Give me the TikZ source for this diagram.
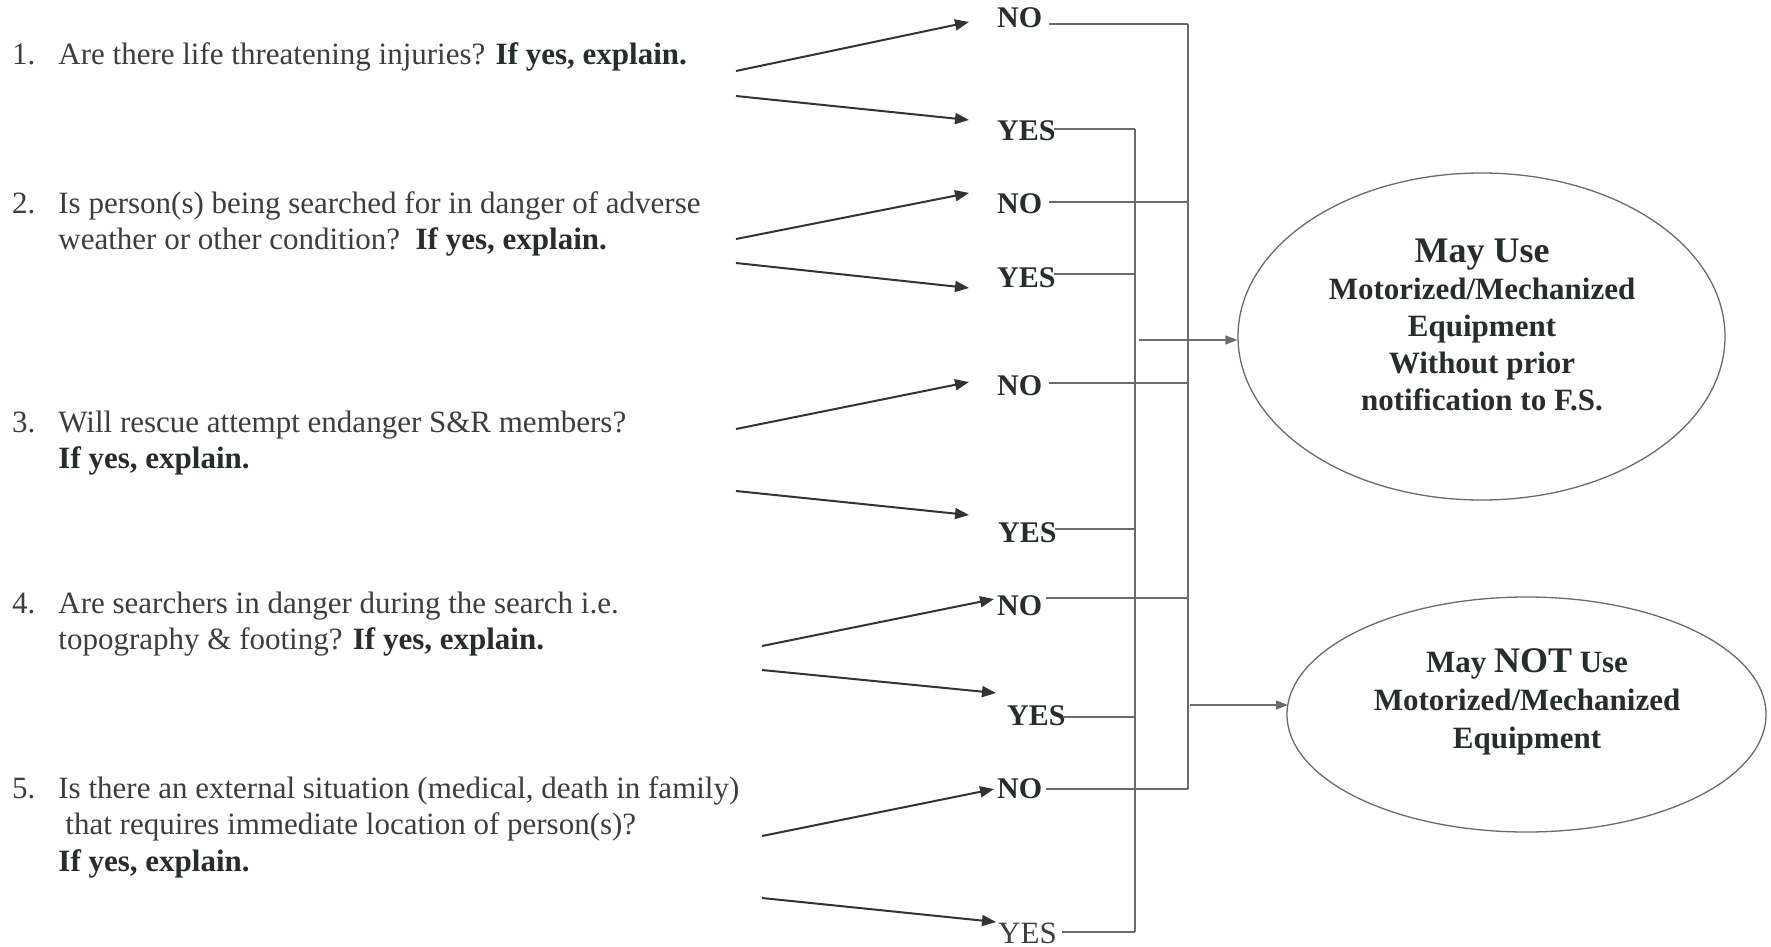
\documentclass[tikz,border=0pt]{standalone}
\usepackage{fontspec}
\setmainfont{Liberation Serif}
\usetikzlibrary{arrows.meta,shapes.geometric}
\definecolor{ink}{RGB}{60,62,60}
\definecolor{inkb}{RGB}{38,46,42}
\definecolor{wirec}{RGB}{105,108,106}
\definecolor{arrowc}{RGB}{48,52,50}
\newcommand{\boldpart}[1]{{\bfseries\color{inkb}#1}}
\begin{document}
\begin{tikzpicture}[x=1pt,y=-1pt,
  qtext/.style={anchor=base west, inner sep=0pt, text=ink, font=\fontsize{31}{36.5}\selectfont},
  ans/.style={anchor=base west, inner sep=0pt, text=inkb, font=\fontsize{30}{36}\selectfont\bfseries},
  ansreg/.style={anchor=base west, inner sep=0pt, text=ink, font=\fontsize{31}{36}\selectfont},
  qarrow/.style={draw=arrowc, line width=2pt, -{Triangle[length=14pt,width=11pt]}},
  wire/.style={draw=wirec, line width=1.3pt},
  earrow/.style={draw=wirec, line width=1.3pt, -{Triangle[length=12pt,width=9pt]}},
  outcome/.style={draw=wirec, line width=1.3pt, ellipse, inner sep=0pt},
  otext/.style={anchor=base, inner sep=0pt, text=inkb, font=\fontsize{31}{37}\selectfont\bfseries}
]
\fill[white] (0,0) rectangle (1771,947);
\useasboundingbox (0,0) rectangle (1771,947);

% questions
\node[qtext] (q1) at (12,65) {\begin{tabular}[t]{@{}l@{\hspace{23pt}}l@{}}1. & Are there life threatening injuries? \boldpart{If yes, explain.}\end{tabular}};
\node[qtext] (q2) at (12,213) {\begin{tabular}[t]{@{}l@{\hspace{23pt}}l@{}}2. & Is person(s) being searched for in danger of adverse\\ & weather or other condition?\ \ \boldpart{If yes, explain.}\end{tabular}};
\node[qtext] (q3) at (12,432) {\begin{tabular}[t]{@{}l@{\hspace{23pt}}l@{}}3. & Will rescue attempt endanger S\&R members?\\ & \boldpart{If yes, explain.}\end{tabular}};
\node[qtext] (q4) at (12,613) {\begin{tabular}[t]{@{}l@{\hspace{23pt}}l@{}}4. & Are searchers in danger during the search i.e.\\ & topography \& footing? \boldpart{If yes, explain.}\end{tabular}};
\node[qtext] (q5) at (12,798) {\begin{tabular}[t]{@{}l@{\hspace{23pt}}l@{}}5. & Is there an external situation (medical, death in family)\\ & \hspace{7pt}that requires immediate location of person(s)?\\ & \boldpart{If yes, explain.}\end{tabular}};

% answers
\node[ans] (no1) at (997,28) {NO};
\node[ans] (yes1) at (997,140) {YES};
\node[ans] (no2) at (997,213) {NO};
\node[ans] (yes2) at (997,287) {YES};
\node[ans] (no3) at (997,395) {NO};
\node[ans] (yes3) at (998,542) {YES};
\node[ans] (no4) at (997,615) {NO};
\node[ans] (yes4) at (1007,725) {YES};
\node[ans] (no5) at (997,798) {NO};
\node[ansreg] (yes5) at (998,943) {YES};

% outcomes
\node[outcome, minimum width=487pt, minimum height=327pt] (e1) at (1481.5,336.5) {};
\node[outcome, minimum width=479pt, minimum height=235pt] (e2) at (1526.5,714.5) {};
\node[otext] (e1t) at (1482,262) {\begin{tabular}[t]{@{}c@{}}{\fontsize{36}{37}\selectfont May Use}\\ Motorized/Mechanized\\ Equipment\\ Without prior\\ notification to F.S.\end{tabular}};
\node[otext, font=\fontsize{31}{38}\selectfont\bfseries] (e2t) at (1527,672) {\begin{tabular}[t]{@{}c@{}}May {\fontsize{36}{38}\selectfont NOT} Use\\ Motorized/Mechanized\\ Equipment\end{tabular}};

% arrow end points
\coordinate (s1n) at (736,71);  \coordinate (t1n) at (969,22);
\coordinate (s1y) at (736,96);  \coordinate (t1y) at (969,120);
\coordinate (s2n) at (736,239); \coordinate (t2n) at (969,193);
\coordinate (s2y) at (736,263); \coordinate (t2y) at (969,288);
\coordinate (s3n) at (736,429); \coordinate (t3n) at (969,382);
\coordinate (s3y) at (736,491); \coordinate (t3y) at (969,515);
\coordinate (s4n) at (762,646); \coordinate (t4n) at (994,599);
\coordinate (s4y) at (762,670); \coordinate (t4y) at (996,693);
\coordinate (s5n) at (762,836); \coordinate (t5n) at (994,789);
\coordinate (s5y) at (762,898); \coordinate (t5y) at (996,922);

\foreach \k in {1,...,5}{
  \draw[qarrow] (s\k n) -- (t\k n);
  \draw[qarrow] (s\k y) -- (t\k y);
}

% bus lines
\coordinate (nobusT) at (1188,24);
\coordinate (nobusB) at (1188,789);
\coordinate (yesbusT) at (1135,129);
\coordinate (yesbusB) at (1135,932);

\draw[wire] (1049,24) -- (nobusT);
\draw[wire] (1049,202) -- (1188,202);
\draw[wire] (1049,383) -- (1188,383);
\draw[wire] (1046,598) -- (1188,598);
\draw[wire] (1046,789) -- (nobusB);
\draw[wire] (nobusT) -- (nobusB);

\draw[wire] (1054,129) -- (yesbusT);
\draw[wire] (1054,274) -- (1135,274);
\draw[wire] (1055,529) -- (1135,529);
\draw[wire] (1063,717) -- (1135,717);
\draw[wire] (1062,932) -- (yesbusB);
\draw[wire] (yesbusT) -- (yesbusB);

\coordinate (ea1) at (1139,340);
\coordinate (ea2) at (1190,705);
\draw[earrow] (ea1) -- (ea1 -| e1.west);
\draw[earrow] (ea2) -- (1288,705);
\end{tikzpicture}
\end{document}
